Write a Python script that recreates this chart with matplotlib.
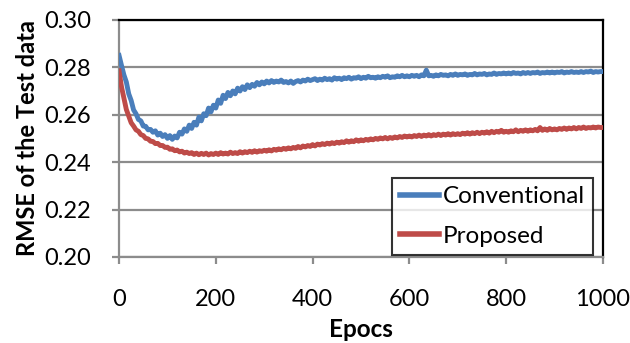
import numpy as np
import matplotlib
matplotlib.use("Agg")
import matplotlib.pyplot as plt

# epochs sampled every 5
epochs = np.arange(0, 1001, 5)

conventional = [
    0.2850, 0.2808, 0.2768, 0.2738, 0.2688, 0.2660, 0.2620, 0.2604, 0.2580, 0.2574,
    0.2552, 0.2551, 0.2536, 0.2538, 0.2526, 0.2532, 0.2514, 0.2522, 0.2508, 0.2516,
    0.2500, 0.2512, 0.2496, 0.2510, 0.2502, 0.2526, 0.2518, 0.2540, 0.2530, 0.2556,
    0.2542, 0.2568, 0.2556, 0.2590, 0.2574, 0.2604, 0.2596, 0.2628, 0.2612, 0.2640,
    0.2628, 0.2662, 0.2648, 0.2682, 0.2668, 0.2694, 0.2680, 0.2700, 0.2688, 0.2712,
    0.2700, 0.2718, 0.2706, 0.2726, 0.2714, 0.2728, 0.2720, 0.2736, 0.2726, 0.2738,
    0.2730, 0.2742, 0.2734, 0.2744, 0.2736, 0.2742, 0.2738, 0.2746, 0.2736, 0.2740,
    0.2734, 0.2742, 0.2732, 0.2740, 0.2744, 0.2738, 0.2746, 0.2742, 0.2750, 0.2744,
    0.2748, 0.2752, 0.2744, 0.2750, 0.2746, 0.2754, 0.2748, 0.2752, 0.2746, 0.2756,
    0.2750, 0.2754, 0.2748, 0.2756, 0.2752, 0.2758, 0.2750, 0.2756, 0.2754, 0.2760,
    0.2752, 0.2758, 0.2754, 0.2762, 0.2756, 0.2758, 0.2754, 0.2760, 0.2756, 0.2762,
    0.2758, 0.2764, 0.2756, 0.2760, 0.2758, 0.2764, 0.2760, 0.2766, 0.2760, 0.2764,
    0.2760, 0.2766, 0.2762, 0.2766, 0.2760, 0.2768, 0.2764, 0.2788, 0.2764, 0.2766,
    0.2762, 0.2768, 0.2764, 0.2770, 0.2766, 0.2768, 0.2764, 0.2770, 0.2766, 0.2772,
    0.2766, 0.2770, 0.2768, 0.2772, 0.2766, 0.2770, 0.2768, 0.2774, 0.2768, 0.2772,
    0.2770, 0.2774, 0.2768, 0.2772, 0.2770, 0.2776, 0.2770, 0.2774, 0.2772, 0.2776,
    0.2772, 0.2776, 0.2772, 0.2778, 0.2774, 0.2776, 0.2772, 0.2778, 0.2774, 0.2778,
    0.2774, 0.2778, 0.2776, 0.2780, 0.2774, 0.2778, 0.2776, 0.2780, 0.2776, 0.2780,
    0.2776, 0.2780, 0.2778, 0.2782, 0.2776, 0.2780, 0.2778, 0.2782, 0.2778, 0.2780,
    0.2778, 0.2782, 0.2778, 0.2782, 0.2780, 0.2784, 0.2778, 0.2782, 0.2780, 0.2782,
    0.2782,
]

proposed = [
    0.2785, 0.2718, 0.2670, 0.2622, 0.2594, 0.2566, 0.2552, 0.2536, 0.2530, 0.2516,
    0.2512, 0.2500, 0.2498, 0.2488, 0.2487, 0.2478, 0.2479, 0.2470, 0.2470, 0.2462,
    0.2463, 0.2454, 0.2456, 0.2448, 0.2451, 0.2443, 0.2446, 0.2438, 0.2442, 0.2436,
    0.2440, 0.2432, 0.2438, 0.2431, 0.2437, 0.2432, 0.2438, 0.2430, 0.2436, 0.2432,
    0.2438, 0.2432, 0.2440, 0.2434, 0.2438, 0.2434, 0.2442, 0.2436, 0.2440, 0.2436,
    0.2444, 0.2438, 0.2444, 0.2440, 0.2446, 0.2441, 0.2448, 0.2442, 0.2448, 0.2445,
    0.2450, 0.2446, 0.2452, 0.2447, 0.2454, 0.2450, 0.2456, 0.2452, 0.2458, 0.2454,
    0.2460, 0.2456, 0.2462, 0.2458, 0.2466, 0.2460, 0.2468, 0.2464, 0.2470, 0.2466,
    0.2474, 0.2468, 0.2476, 0.2472, 0.2478, 0.2474, 0.2480, 0.2476, 0.2482, 0.2478,
    0.2484, 0.2480, 0.2486, 0.2482, 0.2490, 0.2484, 0.2490, 0.2486, 0.2494, 0.2488,
    0.2494, 0.2490, 0.2496, 0.2492, 0.2498, 0.2494, 0.2500, 0.2496, 0.2502, 0.2498,
    0.2504, 0.2498, 0.2504, 0.2500, 0.2506, 0.2502, 0.2508, 0.2504, 0.2510, 0.2506,
    0.2510, 0.2506, 0.2512, 0.2508, 0.2514, 0.2508, 0.2514, 0.2510, 0.2516, 0.2510,
    0.2516, 0.2512, 0.2518, 0.2512, 0.2518, 0.2514, 0.2520, 0.2514, 0.2520, 0.2516,
    0.2520, 0.2516, 0.2522, 0.2518, 0.2524, 0.2518, 0.2524, 0.2520, 0.2526, 0.2520,
    0.2526, 0.2522, 0.2528, 0.2522, 0.2530, 0.2524, 0.2530, 0.2526, 0.2534, 0.2526,
    0.2530, 0.2526, 0.2532, 0.2528, 0.2536, 0.2528, 0.2534, 0.2530, 0.2536, 0.2530,
    0.2536, 0.2532, 0.2538, 0.2532, 0.2546, 0.2534, 0.2540, 0.2534, 0.2542, 0.2536,
    0.2540, 0.2536, 0.2542, 0.2538, 0.2544, 0.2538, 0.2544, 0.2540, 0.2546, 0.2540,
    0.2546, 0.2542, 0.2548, 0.2542, 0.2546, 0.2544, 0.2548, 0.2544, 0.2548, 0.2546,
    0.2546,
]

x_ticks = [0, 200, 400, 600, 800, 1000]
y_ticks = [0.20, 0.22, 0.24, 0.26, 0.28, 0.30]

plt.rcParams['font.family'] = ['Lato', 'DejaVu Sans']

fig = plt.figure(figsize=(6.3, 3.43), dpi=100)
ax = fig.add_axes([0.189, 0.251, 0.768, 0.691])

ax.plot(epochs, conventional, color='#4A7EBB', linewidth=3.5, label='Conventional',
        solid_joinstyle='round', zorder=3)
ax.plot(epochs, proposed, color='#BE4B48', linewidth=3.5, label='Proposed',
        solid_joinstyle='round', zorder=4)

ax.set_xlim(0, 1000)
ax.set_ylim(0.20, 0.30)
ax.set_xticks(x_ticks)
ax.set_yticks(y_ticks)
ax.set_yticklabels([f'{v:.2f}' for v in y_ticks])
ax.grid(axis='y', color='#8C8C8C', linewidth=1.6, zorder=1)
ax.set_axisbelow(True)

for side in ['left', 'bottom']:
    ax.spines[side].set_color('#8C8C8C')
    ax.spines[side].set_linewidth(1.6)
for side in ['top', 'right']:
    ax.spines[side].set_color('black')
    ax.spines[side].set_linewidth(1.6)

ax.tick_params(axis='both', direction='out', length=5, width=1.6, color='#8C8C8C',
               labelsize=17)
ax.tick_params(axis='x', pad=18)
ax.tick_params(axis='y', pad=15)

ax.set_xlabel('Epocs', fontsize=17.5, fontweight='bold', labelpad=6)
ax.set_ylabel('RMSE of the Test data', fontsize=17, fontweight='bold', labelpad=4)

leg = ax.legend(loc='lower right', bbox_to_anchor=(0.98, 0.008), fontsize=17.5,
                frameon=True, fancybox=False, handlelength=1.6, handletextpad=0.15,
                borderpad=0.35, labelspacing=0.75, borderaxespad=0)
leg.get_frame().set_edgecolor('black')
leg.get_frame().set_linewidth(1.5)
for line in leg.get_lines():
    line.set_linewidth(4)

fig.savefig('out.png', dpi=100)
